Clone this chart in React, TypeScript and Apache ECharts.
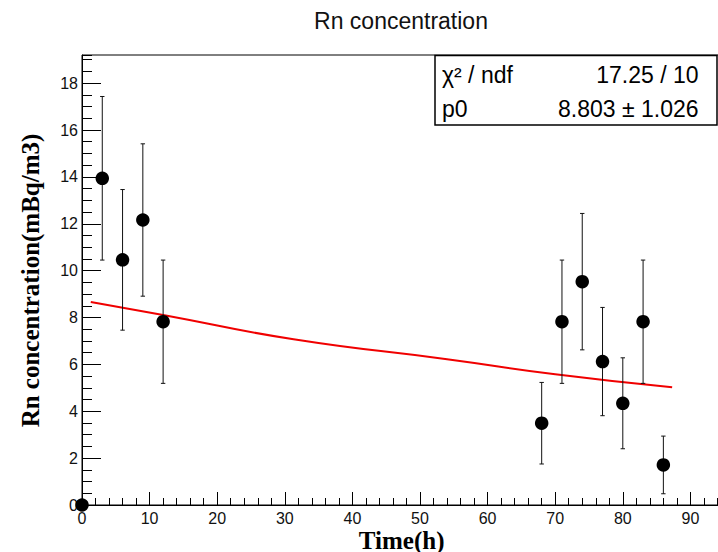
import { useEffect, useRef } from "react";
import * as echarts from "echarts";

// ---- data ----
const times = [0, 3, 6, 9, 12, 68, 71, 74, 77, 80, 83, 86];
const conc = [0, 13.94, 10.46, 12.16, 7.82, 3.49, 7.82, 9.53, 6.12, 4.34, 7.82, 1.71];
const concErr = [0, 3.49, 3.0, 3.25, 2.63, 1.74, 2.63, 2.91, 2.31, 1.94, 2.63, 1.23];
const fitTimes = [1.3, 12, 31.3, 54, 70, 87.3];
const fitValues = [8.66, 8.11, 7.07, 6.22, 5.58, 5.02];
const statsLabels = ["χ² / ndf", "p0"];
const statsValues = ["17.25 / 10", "8.803 ± 1.026"];
const chartTitle = "Rn concentration";
const xTitle = "Time(h)";
const yTitle = "Rn concentration(mBq/m3)";

const SANS = "Liberation Sans, Arial, Helvetica, sans-serif";
const SERIF = "Liberation Serif, Times New Roman, serif";

export default function App() {
  const ref = useRef<HTMLDivElement>(null);

  useEffect(() => {
    if (!ref.current) return;
    const chart = echarts.init(ref.current, undefined, { renderer: "svg" });

    const labelStyle = { fontFamily: SANS, fontSize: 16, color: "#111" };

    const option: any = {
      animation: false,
      backgroundColor: "#fff",
      grid: {
        left: 82,
        top: 55,
        right: -6.2,
        bottom: 47,
        show: true,
        borderColor: "#000",
        borderWidth: 1,
        outerBoundsMode: "none",
      },
      xAxis: [
        {
          type: "value",
          min: 0,
          max: 95,
          interval: 10,
          position: "bottom",
          axisLine: { show: true, lineStyle: { color: "#000", width: 1 } },
          axisTick: { show: true, inside: true, length: 13, lineStyle: { color: "#000", width: 1 } },
          axisLabel: { ...labelStyle, margin: 5, showMaxLabel: false },
          splitLine: { show: false },
        },
        {
          type: "value",
          min: 0,
          max: 95,
          interval: 2,
          position: "bottom",
          axisLine: { show: false },
          axisTick: { show: true, inside: true, length: 7, lineStyle: { color: "#000", width: 1 } },
          axisLabel: { show: false },
          splitLine: { show: false },
        },
      ],
      yAxis: [
        {
          type: "value",
          min: 0,
          max: 19.2,
          interval: 2,
          position: "left",
          axisLine: { show: true, lineStyle: { color: "#000", width: 1 } },
          axisTick: { show: true, inside: true, length: 19, lineStyle: { color: "#000", width: 1 } },
          axisLabel: { ...labelStyle, margin: 4, showMaxLabel: false },
          splitLine: { show: false },
        },
        {
          type: "value",
          min: 0,
          max: 19.2,
          interval: 0.5,
          position: "left",
          axisLine: { show: false },
          axisTick: { show: true, inside: true, length: 10, lineStyle: { color: "#000", width: 1 } },
          axisLabel: { show: false },
          splitLine: { show: false },
        },
      ],
      series: [
        {
          type: "line",
          name: "fit",
          xAxisIndex: 0,
          yAxisIndex: 0,
          data: fitTimes.map((t, i) => [t, fitValues[i]]),
          smooth: true,
          showSymbol: false,
          symbol: "none",
          lineStyle: { color: "#f00000", width: 2, opacity: 1 },
          z: 3,
        },
        {
          type: "custom",
          name: "errors",
          xAxisIndex: 0,
          yAxisIndex: 0,
          data: times.map((t, i) => [t, conc[i] - concErr[i], conc[i] + concErr[i]]),
          encode: { x: 0, y: [1, 2] },
          renderItem: (params: any, api: any) => {
            const lo = api.coord([api.value(0), api.value(1)]);
            const hi = api.coord([api.value(0), api.value(2)]);
            if (Math.abs(lo[1] - hi[1]) < 1) return { type: "group", children: [] };
            const hw = 2.2;
            const st = { stroke: "#111", lineWidth: 1 };
            return {
              type: "group",
              children: [
                { type: "line", shape: { x1: lo[0], y1: lo[1], x2: hi[0], y2: hi[1] }, style: st },
                { type: "line", shape: { x1: lo[0] - hw, y1: lo[1], x2: lo[0] + hw, y2: lo[1] }, style: st },
                { type: "line", shape: { x1: hi[0] - hw, y1: hi[1], x2: hi[0] + hw, y2: hi[1] }, style: st },
              ],
            };
          },
          z: 4,
        },
        {
          type: "scatter",
          name: "data",
          xAxisIndex: 0,
          yAxisIndex: 0,
          data: times.map((t, i) => [t, conc[i]]),
          symbol: "circle",
          symbolSize: 13.5,
          itemStyle: { color: "#000", opacity: 1 },
          clip: false,
          z: 5,
        },
      ],
      graphic: [
        {
          type: "text",
          x: 401,
          y: 21,
          style: {
            text: chartTitle,
            fontFamily: SANS,
            fontSize: 23,
            fill: "#111",
            align: "center",
            verticalAlign: "middle",
          },
          silent: true,
        },
        {
          type: "text",
          x: 401.7,
          y: 540,
          style: {
            text: xTitle,
            fontFamily: SERIF,
            fontWeight: "bold",
            fontSize: 25,
            fill: "#000",
            align: "center",
            verticalAlign: "middle",
          },
          silent: true,
        },
        {
          type: "text",
          x: 30,
          y: 280.5,
          rotation: Math.PI / 2,
          style: {
            text: yTitle,
            fontFamily: SERIF,
            fontWeight: "bold",
            fontSize: 25,
            fill: "#000",
            align: "center",
            verticalAlign: "middle",
          },
          silent: true,
        },
        {
          type: "rect",
          shape: { x: 435, y: 55.5, width: 282, height: 69.5 },
          style: { fill: "#fff", stroke: "#000", lineWidth: 1.5 },
          z: 10,
          silent: true,
        },
        ...statsLabels.map((s, i) => ({
          type: "text",
          x: 442,
          y: 75 + i * 33.5,
          z: 11,
          style: {
            text: s,
            fontFamily: SANS,
            fontSize: 23,
            fill: "#000",
            align: "left",
            verticalAlign: "middle",
          },
          silent: true,
        })),
        ...statsValues.map((s, i) => ({
          type: "text",
          x: 698.5,
          y: 75 + i * 33.5,
          z: 11,
          style: {
            text: s,
            fontFamily: SANS,
            fontSize: 23,
            fill: "#000",
            align: "right",
            verticalAlign: "middle",
          },
          silent: true,
        })),
      ],
    };

    chart.setOption(option);
    return () => chart.dispose();
  }, []);

  return (
    <div
      ref={ref}
      style={{ position: "fixed", left: 0, top: 0, width: 718, height: 552, background: "#fff" }}
    />
  );
}
